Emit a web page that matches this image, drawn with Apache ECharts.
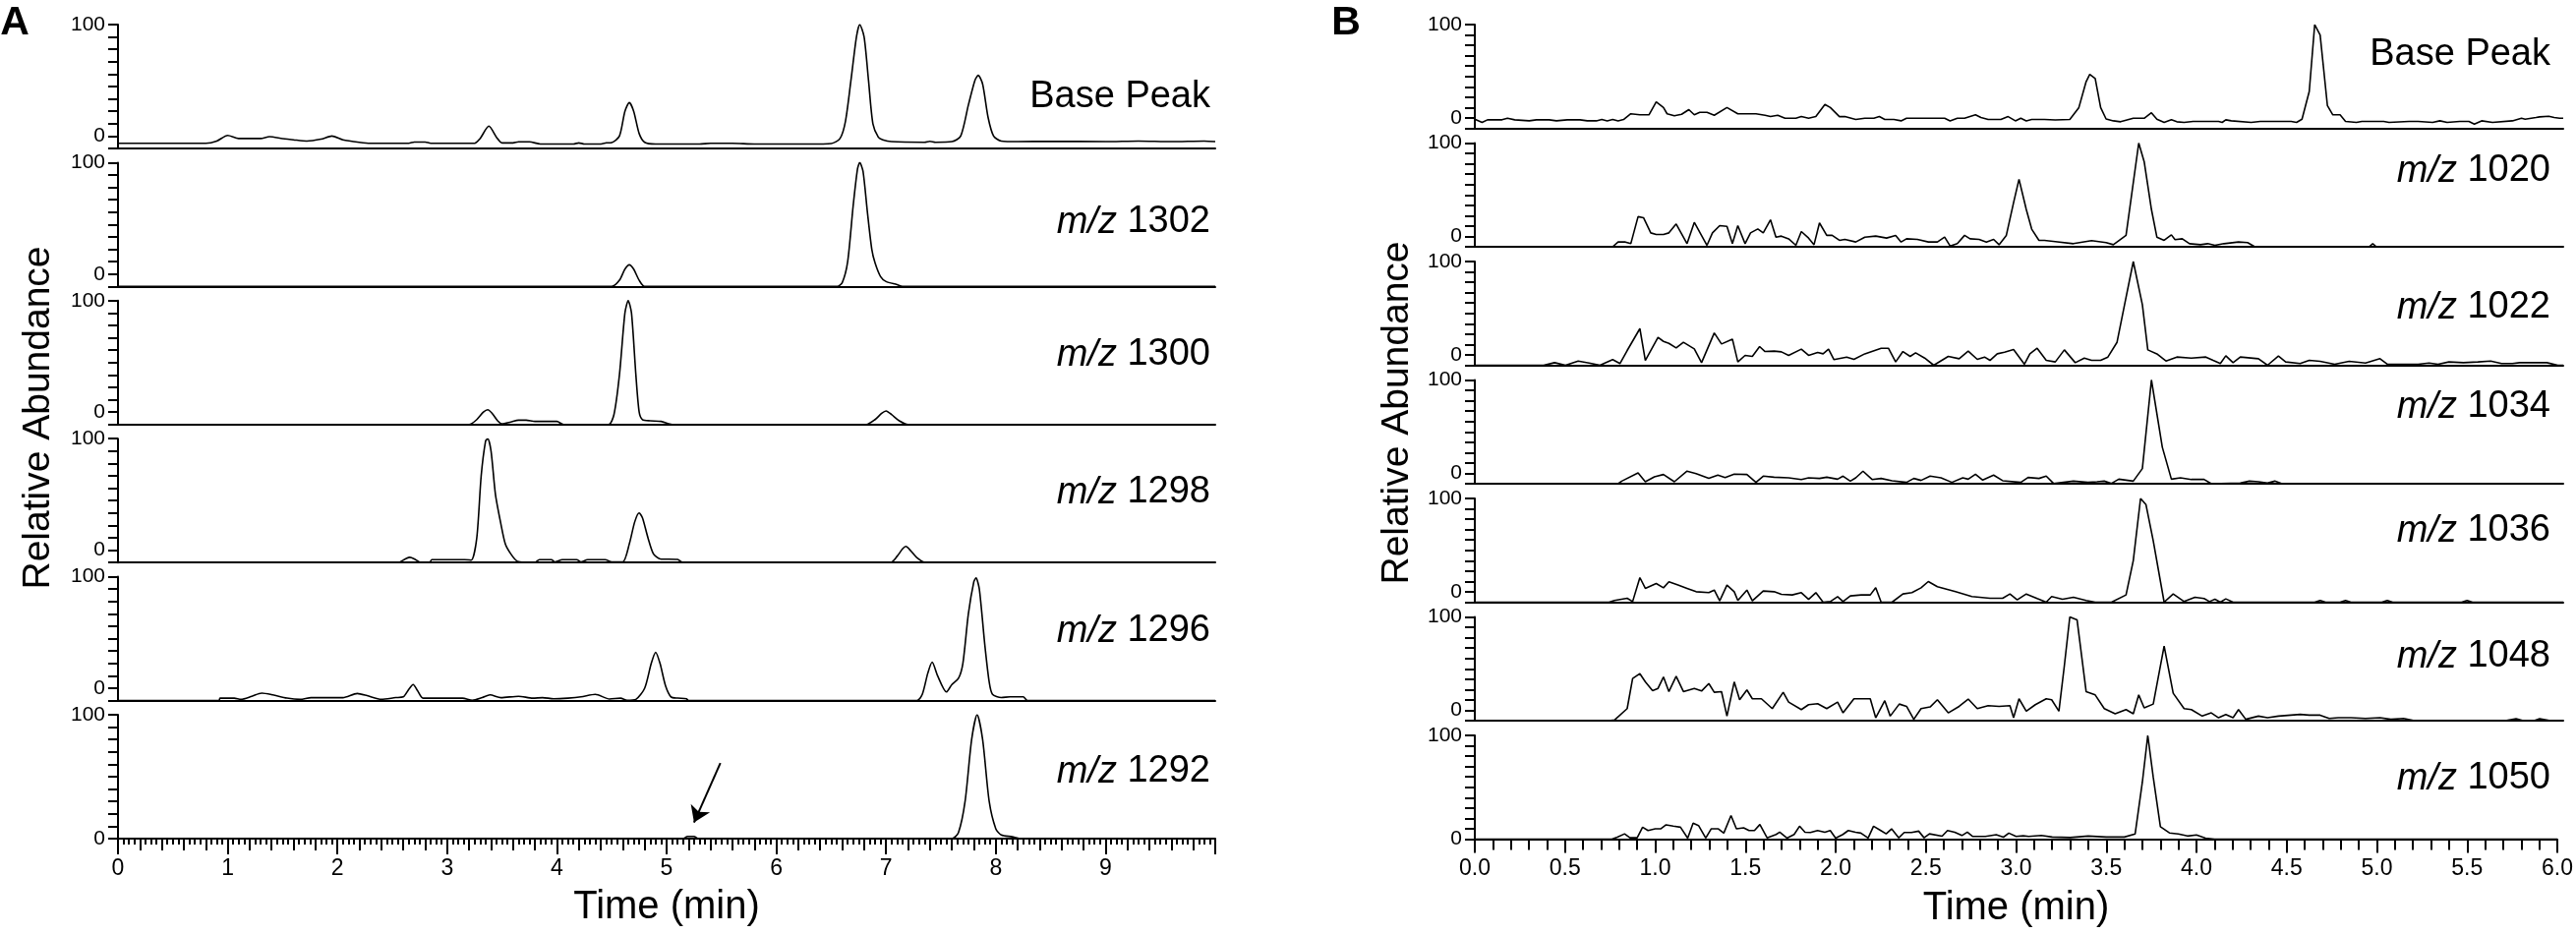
<!DOCTYPE html>
<html>
<head>
<meta charset="utf-8">
<title>Chromatograms</title>
<script src="https://cdn.jsdelivr.net/npm/echarts@6/dist/echarts.min.js"></script>
<style>
html, body { margin: 0; padding: 0; background: #fff; }
#chart { width: 2620px; height: 950px; }
</style>
</head>
<body>
<div id="chart"></div>
<script>
'use strict';

//------------data (time in min, relative abundance)

var aNames = ['Base Peak', '1302', '1300', '1298', '1296', '1292'];
var bNames = ['Base Peak', '1020', '1022', '1034', '1036', '1048', '1050'];
var aRange = [0, 10];
var bRange = [0, 6];
var yRange = [0, 100];
var arrowA = [[5.49, 61], [5.25, 13]];

var aBase = [[0,4.2],[0.8,4.2],[0.9,6],[1.0,10.5],[1.1,8],[1.3,8],[1.38,9.5],[1.5,8],[1.6,7],[1.72,6],[1.85,7.5],[1.95,10],[2.05,7],[2.2,5],[2.3,4.2],[2.65,4.2],[2.7,5.2],[2.8,5.2],[2.85,4.2],[3.25,4.2],[3.3,8],[3.38,18],[3.45,9],[3.5,4.5],[3.6,4.5],[3.65,5.3],[3.75,5.3],[3.85,3.6],[4.15,3.6],[4.2,4.5],[4.25,3.6],[4.4,3.6],[4.45,4.5],[4.5,4.8],[4.57,10],[4.62,30],[4.66,37],[4.7,30],[4.75,12],[4.8,5],[4.9,3.6],[5.3,3.6],[5.4,4.2],[5.6,4.2],[5.8,3.6],[6.3,3.6],[6.5,4],[6.58,8],[6.63,22],[6.68,55],[6.73,90],[6.76,100],[6.8,90],[6.84,55],[6.88,20],[6.93,9],[6.97,7],[7.05,5.5],[7.35,5],[7.4,5.8],[7.45,5],[7.6,5.5],[7.68,10],[7.75,35],[7.81,55],[7.84,59],[7.88,52],[7.93,25],[7.98,10],[8.05,6],[8.2,5.5],[8.5,5.8],[9.0,5.5],[9.3,6],[9.6,5.5],[9.9,6],[10,5.5]];
var a1302 = [[0,0],[4.5,0],[4.57,5],[4.62,14],[4.66,17.5],[4.7,14],[4.75,5],[4.8,0],[6.55,0],[6.6,3],[6.65,20],[6.7,65],[6.74,95],[6.76,100],[6.79,93],[6.83,60],[6.87,30],[6.9,19],[6.95,8],[7.0,4],[7.1,1.5],[7.15,0],[10,0]];
var a1300 = [[0,0],[3.2,0],[3.27,4],[3.33,10],[3.37,12],[3.41,9],[3.46,3],[3.5,0.5],[3.58,2],[3.65,3.5],[3.72,3.5],[3.8,2.5],[4.0,2.5],[4.06,0],[4.47,0],[4.52,8],[4.57,40],[4.62,90],[4.65,100],[4.68,90],[4.72,40],[4.75,10],[4.78,4],[4.85,3],[4.95,2.5],[5.05,0],[6.82,0],[6.9,4],[6.96,9],[7.0,11],[7.05,8],[7.12,3],[7.2,0],[10,0]];
var a1298 = [[0,0],[2.55,0],[2.62,3],[2.66,4.2],[2.7,3],[2.76,0],[2.84,0],[2.86,2.4],[3.16,2.4],[3.22,2],[3.27,20],[3.31,70],[3.35,98],[3.37,100],[3.4,90],[3.44,55],[3.49,31],[3.53,15],[3.58,7],[3.64,1],[3.8,0],[3.84,2.4],[3.95,2.4],[3.98,0.5],[4.05,2.4],[4.18,2.4],[4.22,0.5],[4.28,2.4],[4.44,2.4],[4.5,0.5],[4.6,0.5],[4.66,15],[4.71,33],[4.75,40],[4.78,36],[4.83,20],[4.88,7],[4.94,3],[5.1,2.5],[5.15,0],[7.04,0],[7.1,5],[7.15,11],[7.18,13],[7.22,10],[7.28,4],[7.36,0],[10,0]];
var a1296 = [[0,0],[0.92,0],[0.93,2],[1.06,2],[1.12,1],[1.22,3.5],[1.31,6],[1.41,4.6],[1.54,2],[1.66,1],[1.76,2.4],[2.05,2.4],[2.18,5.7],[2.27,4],[2.4,1],[2.53,2.4],[2.6,3],[2.65,9],[2.69,13],[2.73,8],[2.78,2],[3.14,2],[3.23,0.3],[3.32,2.5],[3.39,4.6],[3.49,2.4],[3.65,3.5],[3.78,2],[3.87,2.4],[3.97,1.5],[4.1,2],[4.22,3],[4.35,5],[4.48,1.3],[4.58,2],[4.64,0.3],[4.72,1],[4.8,10],[4.86,30],[4.9,39],[4.94,30],[4.99,12],[5.04,3],[5.1,2],[5.18,1.5],[5.2,0],[7.28,0],[7.33,5],[7.38,22],[7.42,31],[7.47,20],[7.55,7],[7.6,13],[7.66,18],[7.7,30],[7.75,70],[7.8,96],[7.82,99],[7.85,90],[7.9,45],[7.94,15],[7.97,5],[8.05,2.5],[8.13,3],[8.25,3],[8.29,0],[10,0]];
var a1292 = [[0,0],[5.15,0],[5.19,1.8],[5.25,1.8],[5.29,0],[7.6,0],[7.66,5],[7.72,30],[7.78,80],[7.83,100],[7.88,80],[7.94,30],[8.0,8],[8.05,3],[8.15,1.5],[8.22,0],[10,0]];

var bBase = [[0,8.8],[0.04,5.7],[0.07,8.2],[0.15,8.2],[0.18,9.7],[0.22,8.2],[0.3,7.2],[0.34,8.2],[0.41,8.2],[0.45,7.2],[0.51,8.2],[0.58,8.2],[0.62,7.2],[0.67,7.2],[0.7,8.5],[0.73,7.2],[0.76,8.5],[0.79,7.2],[0.82,8.5],[0.86,14],[0.91,13],[0.96,13],[1.0,25.5],[1.04,20],[1.06,14],[1.1,12],[1.14,13.5],[1.18,18],[1.21,13],[1.24,15.4],[1.28,15.4],[1.32,12.6],[1.39,20],[1.45,14],[1.55,14],[1.6,12.6],[1.63,11.3],[1.67,12.6],[1.71,9.7],[1.77,9.7],[1.8,11.3],[1.84,9.7],[1.88,11.3],[1.93,23],[1.96,20],[2.01,11.3],[2.04,11.3],[2.1,8.5],[2.15,9.7],[2.2,9.7],[2.23,11.3],[2.26,8.5],[2.31,8.5],[2.35,7.2],[2.38,9.7],[2.59,9.7],[2.62,7.2],[2.66,9.7],[2.7,9.7],[2.76,13],[2.79,10.4],[2.83,8.5],[2.9,8.5],[2.94,11.3],[2.98,7.2],[3.01,9.7],[3.04,7.2],[3.07,8.5],[3.14,8.5],[3.2,8],[3.28,8.5],[3.33,20],[3.37,45],[3.39,52],[3.42,48],[3.45,20],[3.48,9],[3.52,7.2],[3.56,6.3],[3.63,9.7],[3.69,9.7],[3.73,15],[3.76,8.8],[3.8,5.7],[3.84,8.2],[3.87,6.3],[3.91,5.7],[3.96,6.6],[4.1,6.6],[4.12,5.7],[4.14,8.2],[4.17,7.2],[4.28,5.7],[4.33,6.6],[4.5,6.6],[4.53,5.7],[4.56,8.8],[4.6,35.5],[4.63,100],[4.66,90],[4.7,22],[4.73,13],[4.77,13],[4.8,6.6],[4.86,5.7],[4.89,6.6],[5.01,6.6],[5.04,5.7],[5.15,6.6],[5.2,6.6],[5.28,5.7],[5.32,7.2],[5.36,5.7],[5.43,6.6],[5.48,6.6],[5.51,4],[5.55,7.2],[5.61,5.7],[5.72,7.2],[5.77,9.7],[5.79,8.8],[5.85,10.4],[5.87,11],[5.92,11.6],[5.95,10.4],[5.98,9.7],[6.0,9.7]];
var b1020 = [[0,0],[0.76,0],[0.79,4.6],[0.83,4.6],[0.86,3],[0.9,29],[0.93,28],[0.97,13.4],[1.0,11.8],[1.04,11.8],[1.07,13.4],[1.11,22],[1.17,3],[1.21,23.5],[1.28,1.4],[1.31,13.4],[1.35,20.4],[1.39,19.7],[1.42,3],[1.45,20.4],[1.49,3],[1.52,13.4],[1.56,17.2],[1.59,13.4],[1.63,26],[1.66,9.3],[1.69,10.3],[1.73,7.7],[1.77,1.4],[1.8,14.7],[1.84,8.4],[1.87,2],[1.9,23],[1.94,11],[1.97,11],[2.01,6.2],[2.04,7.1],[2.1,4.6],[2.15,9.3],[2.21,10.3],[2.27,8.4],[2.32,11],[2.35,4.6],[2.38,7.7],[2.44,7.1],[2.5,4.6],[2.55,4.6],[2.59,9.3],[2.62,0.8],[2.66,3],[2.7,11],[2.73,7.7],[2.78,7.1],[2.82,4.6],[2.86,7.1],[2.89,2],[2.93,11],[2.97,42.5],[3.0,65],[3.04,36],[3.07,17],[3.11,6.2],[3.14,6.2],[3.2,5],[3.3,3],[3.4,6],[3.48,4],[3.52,2],[3.59,11],[3.66,100],[3.69,82],[3.73,36],[3.76,9.3],[3.8,6.2],[3.84,11.5],[3.86,6.8],[3.9,7.7],[3.94,3],[4.0,2],[4.04,3],[4.08,1.4],[4.13,3],[4.21,4.6],[4.26,4],[4.3,0],[4.93,0],[4.95,3],[4.97,0],[6.0,0]];
var b1022 = [[0,0],[0.38,0],[0.44,2.5],[0.5,0],[0.57,4.1],[0.63,2.2],[0.69,0],[0.76,5.4],[0.8,1.6],[0.84,14.2],[0.91,35.3],[0.94,4.7],[1.01,26.8],[1.04,23],[1.07,21.1],[1.11,16.7],[1.15,22.1],[1.21,15.8],[1.25,2.5],[1.32,31.2],[1.36,20.5],[1.42,25.2],[1.45,3.2],[1.49,9.5],[1.53,8.5],[1.57,18],[1.6,13.2],[1.65,13.6],[1.69,12.9],[1.73,9.5],[1.8,15.5],[1.84,9.5],[1.89,12.3],[1.92,11],[1.95,15.5],[1.98,5.4],[2.05,7.9],[2.09,5.7],[2.15,11],[2.24,16.4],[2.28,16.4],[2.32,3.2],[2.36,13.2],[2.4,8.5],[2.43,12],[2.48,6.9],[2.53,0],[2.61,8.5],[2.67,6.3],[2.72,13.6],[2.77,5.7],[2.81,7.9],[2.84,4.7],[2.88,11],[2.92,12.6],[2.97,15.1],[3.03,1],[3.06,11],[3.1,16.4],[3.15,4.7],[3.2,3.2],[3.25,14.8],[3.31,2.5],[3.36,6.9],[3.4,4.7],[3.45,4.7],[3.49,7.9],[3.54,22],[3.58,56.8],[3.63,100],[3.68,58.4],[3.71,14.8],[3.76,11],[3.81,4.1],[3.87,7.9],[3.95,6.9],[4.03,7.9],[4.07,4.7],[4.11,1.6],[4.14,9.1],[4.18,2.5],[4.22,7.9],[4.32,6.3],[4.37,0],[4.43,8.8],[4.47,3.2],[4.55,1.6],[4.6,4.7],[4.66,3.8],[4.74,1],[4.82,3.8],[4.91,2.2],[4.99,6.3],[5.03,1],[5.2,1],[5.26,2.2],[5.31,1],[5.37,3.2],[5.45,2.5],[5.53,3.2],[5.6,4.1],[5.66,1.6],[5.72,1.6],[5.76,2.5],[5.91,2.5],[5.97,0],[6.0,0]];
var b1034 = [[0,0],[0.79,0],[0.81,2.5],[0.9,10.5],[0.94,1.9],[0.99,6.7],[1.04,8.9],[1.1,1.9],[1.17,12.1],[1.22,9.8],[1.29,5.1],[1.34,8.3],[1.38,6],[1.43,9.2],[1.5,8.9],[1.55,1.3],[1.59,7.3],[1.65,6.3],[1.73,5.7],[1.8,4.1],[1.84,5.7],[1.9,5.1],[1.94,6.3],[2.0,4.4],[2.03,7.3],[2.07,2.5],[2.1,5.7],[2.14,12.1],[2.19,4.1],[2.24,5.1],[2.3,2.9],[2.38,1.3],[2.42,5.1],[2.46,3.2],[2.51,7.3],[2.57,5.7],[2.63,1.3],[2.69,5.7],[2.72,4.4],[2.76,9.2],[2.8,3.5],[2.86,8.3],[2.91,2.9],[3.01,1.3],[3.05,6],[3.11,5.1],[3.15,7.3],[3.19,0.3],[3.3,2.5],[3.38,1.3],[3.43,1.9],[3.47,2.5],[3.51,0.3],[3.55,4.4],[3.63,2.5],[3.68,14.6],[3.73,100],[3.79,35.2],[3.84,4.4],[3.89,5.7],[3.95,4.1],[4.02,4.1],[4.06,0],[4.22,0.6],[4.27,2.5],[4.32,1.9],[4.37,0.6],[4.41,2.5],[4.45,0],[6.0,0]];
var b1036 = [[0,0],[0.74,0],[0.77,1.6],[0.84,3.8],[0.87,0.6],[0.91,23.7],[0.94,13.3],[1.0,18],[1.04,13.9],[1.07,19.6],[1.12,16.5],[1.17,13.3],[1.22,10.1],[1.29,9.2],[1.32,11.7],[1.35,1.3],[1.39,16.5],[1.43,10.1],[1.45,1.6],[1.5,11.7],[1.53,1.3],[1.59,10.8],[1.65,10.1],[1.69,7.6],[1.75,7],[1.8,9.2],[1.84,2.8],[1.88,9.2],[1.92,0],[1.96,0.6],[2.0,5.4],[2.03,0.6],[2.07,6],[2.13,7],[2.18,7],[2.21,13.9],[2.24,0],[2.3,0],[2.36,7.9],[2.41,9.2],[2.46,13.9],[2.5,19.9],[2.55,14.9],[2.65,10.1],[2.74,5.4],[2.84,3.8],[2.91,3.8],[2.95,7.9],[2.99,2.2],[3.04,7.9],[3.1,3.5],[3.15,0],[3.18,5.4],[3.24,2.8],[3.3,4.7],[3.37,1.6],[3.42,0],[3.51,0],[3.59,7],[3.63,40.2],[3.67,100],[3.7,94],[3.74,59.2],[3.8,0],[3.85,7.9],[3.91,0.6],[3.97,4.7],[4.02,3.5],[4.05,0.6],[4.08,2.8],[4.11,0],[4.14,3.2],[4.18,0],[4.63,0],[4.66,1.6],[4.69,0],[4.77,0],[4.8,1.6],[4.83,0],[5.0,0],[5.03,1.6],[5.06,0],[5.44,0],[5.47,1.6],[5.5,0],[6.0,0]];
var b1048 = [[0,0],[0.74,0],[0.77,0.6],[0.84,11.6],[0.87,40.6],[0.91,45.3],[0.94,37.4],[0.98,28.9],[1.01,31.1],[1.04,42.1],[1.07,28],[1.11,42.8],[1.15,28],[1.21,31.1],[1.25,28.6],[1.29,35.8],[1.32,27.4],[1.36,28],[1.39,4.4],[1.43,37.4],[1.46,20.1],[1.5,29.6],[1.53,21.1],[1.58,21.1],[1.64,11.6],[1.7,27.4],[1.73,17.9],[1.8,10.7],[1.84,15.4],[1.89,16.4],[1.94,11.6],[2.0,17.9],[2.03,7.5],[2.09,21.1],[2.15,21.1],[2.18,21.1],[2.21,2.8],[2.26,19.2],[2.29,4.4],[2.34,16],[2.38,13.8],[2.42,1.3],[2.46,11.6],[2.51,13.2],[2.55,20.1],[2.61,7.5],[2.67,13.8],[2.72,20.8],[2.77,11.6],[2.83,14.5],[2.89,13.8],[2.95,14.5],[2.97,2.8],[3.0,21.1],[3.04,9.1],[3.09,15.4],[3.15,21.1],[3.18,20.1],[3.22,9.1],[3.25,53.1],[3.28,100],[3.32,97.2],[3.37,28],[3.42,24.8],[3.47,11.6],[3.53,6.6],[3.59,10.7],[3.63,6.6],[3.66,24.8],[3.69,12.3],[3.74,16],[3.8,72],[3.85,26.4],[3.91,11.6],[3.95,10.7],[4.01,4.4],[4.06,7.5],[4.1,2.8],[4.14,6],[4.18,2.8],[4.21,10.7],[4.25,1.3],[4.32,4.4],[4.37,2.8],[4.43,4.4],[4.55,6],[4.6,5.3],[4.66,5.3],[4.71,2.2],[4.76,2.8],[4.83,2.8],[4.91,2.2],[4.99,2.8],[5.05,1.3],[5.12,2.2],[5.18,0],[5.68,0],[5.74,1.9],[5.78,0],[5.84,0],[5.87,1.9],[5.93,0],[6.0,0]];
var b1050 = [[0,0],[0.76,0],[0.79,1.9],[0.83,5.1],[0.86,1.3],[0.9,1.3],[0.93,11.5],[0.96,8.3],[1.0,9.9],[1.03,9.9],[1.06,13.8],[1.1,12.5],[1.14,11.5],[1.18,1],[1.21,15.4],[1.24,13.1],[1.28,1],[1.31,9.9],[1.35,9.9],[1.38,5.8],[1.42,22.8],[1.45,9.9],[1.49,10.9],[1.52,8.3],[1.55,8.3],[1.58,14.1],[1.62,1.3],[1.67,4.5],[1.69,6.7],[1.73,1],[1.77,4.5],[1.8,12.5],[1.83,6.7],[1.86,6.4],[1.9,8.3],[1.94,6.7],[1.97,8.3],[2.0,1],[2.04,4.5],[2.07,8.3],[2.11,6.7],[2.14,5.8],[2.18,1],[2.21,12.5],[2.25,8.3],[2.28,5.1],[2.31,9.9],[2.35,1.3],[2.38,6.4],[2.42,6.4],[2.46,7.7],[2.49,1.3],[2.52,5.1],[2.59,2.9],[2.62,8.3],[2.66,6.7],[2.7,3.5],[2.73,6.7],[2.76,2.6],[2.83,2.6],[2.89,4.2],[2.93,1.9],[2.96,5.8],[3.0,2.6],[3.04,3.2],[3.07,2.6],[3.14,3.5],[3.2,2],[3.3,1.5],[3.4,3],[3.5,2],[3.6,2],[3.66,5],[3.7,55],[3.73,100],[3.76,60],[3.8,12],[3.85,6],[3.9,5],[3.95,3],[4.0,4],[4.05,1],[4.1,0],[6.0,0]];

var aSeries = [aBase, a1302, a1300, a1298, a1296, a1292];
var bSeries = [bBase, b1020, b1022, b1034, b1036, b1048, b1050];

//------------layout

var FONT = "'Liberation Sans', Arial, Helvetica, sans-serif";

var panels = [
	{ side: 'A', names: aNames, traces: aSeries, range: aRange, left: 120, width: 1116, top: 25, pitch: 140.4, height: 126,
	  labelX: 1231, labelY: [99, 226, 361, 501, 642, 785], zeroLift: 25, smooth: 0.25,
	  letterX: 15, titleX: 39, titleY: 425, axisStep: 1, labelFmt: function (v) { return v >= 10 ? '' : String(v); } },
	{ side: 'B', names: bNames, traces: bSeries, range: bRange, left: 1500, width: 1107, top: 25, pitch: 120.5, height: 105.5,
	  labelX: 2594, labelY: [56, 174, 313, 414, 540, 668, 792], zeroLift: 21, smooth: false,
	  letterX: 1369, titleX: 1421, titleY: 420, axisStep: 0.5, labelFmt: function (v) { return v.toFixed(1); } }
];

var chart = echarts.init(document.getElementById('chart'));
var grids = [], xAxes = [], yAxes = [], series = [], graphics = [];

panels.forEach(function (p) {
	var n = p.traces.length;
	for (var i = 0; i < n; i++) {
		var last = (i === n - 1);
		var gi = grids.length;
		grids.push({ left: p.left, width: p.width, top: p.top + i * p.pitch, height: p.height });

		var xi = xAxes.length;
		var xAxis = {
			gridIndex: gi, type: 'value', position: 'bottom', min: p.range[0], max: p.range[1],
			axisLine: { show: true, onZero: false, lineStyle: { color: '#000', width: 2 } },
			axisTick: { show: false },
			axisLabel: { show: false },
			splitLine: { show: false }
		};
		if (last) {
			xAxis.interval = p.axisStep;
			xAxis.axisTick = { show: true, length: p.side === 'A' ? 16 : 14, lineStyle: { color: '#000', width: 2 } };
			xAxis.minorTick = { show: true, splitNumber: p.side === 'A' ? 20 : 5, length: p.side === 'A' ? 6 : 11, lineStyle: { color: '#000', width: 2 } };
			xAxis.axisLabel = { show: true, margin: 19, color: '#000', fontSize: 23, fontFamily: FONT, formatter: p.labelFmt };
			xAxis.name = 'Time (min)';
			xAxis.nameLocation = 'middle';
			xAxis.nameGap = 50;
			xAxis.nameTextStyle = { color: '#000', fontSize: 40, fontFamily: FONT };
		}
		xAxes.push(xAxis);

		// medium ticks every 0.2 min on the bottom axis of panel A
		if (last && p.side === 'A') {
			xAxes.push({
				gridIndex: gi, type: 'value', position: 'bottom', offset: 0,
				min: p.range[0], max: p.range[1], interval: 0.2,
				axisLine: { show: false, onZero: false },
				axisTick: { show: true, length: 12, lineStyle: { color: '#000', width: 2 } },
				axisLabel: { show: false },
				splitLine: { show: false }
			});
		}

		yAxes.push({
			gridIndex: gi, type: 'value', min: yRange[0], max: yRange[1], interval: 10,
			axisLine: { show: true, onZero: false, lineStyle: { color: '#000', width: 2 } },
			axisTick: { show: true, length: 10, lineStyle: { color: '#000', width: 2 } },
			splitLine: { show: false },
			axisLabel: {
				margin: 13, color: '#000', fontSize: 21, fontFamily: FONT,
				showMinLabel: true, showMaxLabel: true,
				formatter: (function (isLast) {
					return function (v) {
						if (v === 100) return '100';
						if (v === 0) return isLast ? '0' : '{up|0}';
						return '';
					};
				})(last),
				rich: { up: { fontSize: 21, fontFamily: FONT, color: '#000', padding: [0, 0, p.zeroLift, 0] } }
			}
		});

		var s = {
			type: 'line', xAxisIndex: xi, yAxisIndex: gi, data: p.traces[i],
			showSymbol: false, symbol: 'none', smooth: p.smooth, silent: true,
			lineStyle: { color: '#000', width: 1.6 }
		};
		if (last && p.side === 'A') {
			s.markLine = {
				silent: true, symbol: ['none', 'arrow'], symbolSize: 16,
				lineStyle: { color: '#000', width: 2, type: 'solid' },
				label: { show: false },
				data: [[{ coord: arrowA[0] }, { coord: arrowA[1] }]]
			};
		}
		series.push(s);

		// trace labels
		var name = p.names[i];
		graphics.push({
			type: 'text', x: p.labelX, y: p.labelY[i],
			style: {
				text: name === 'Base Peak' ? name : '{i|m/z} ' + name,
				align: 'right', verticalAlign: 'middle',
				fontSize: 38, fontFamily: FONT, fill: '#000',
				rich: { i: { fontSize: 38, fontFamily: FONT, fontStyle: 'italic', fill: '#000' } }
			}
		});
	}

	// panel letter and y title
	graphics.push({
		type: 'text', x: p.letterX, y: 24,
		style: { text: p.side, align: 'center', verticalAlign: 'middle', fontSize: 41, fontWeight: 'bold', fontFamily: FONT, fill: '#000' }
	});
	graphics.push({
		type: 'text', x: p.titleX, y: p.titleY, rotation: Math.PI / 2,
		style: { text: 'Relative Abundance', align: 'center', verticalAlign: 'middle', fontSize: 39, fontFamily: FONT, fill: '#000' }
	});
});

var option = {
	animation: false,
	backgroundColor: '#fff',
	textStyle: { fontFamily: FONT },
	grid: grids,
	xAxis: xAxes,
	yAxis: yAxes,
	series: series,
	graphic: graphics
};

chart.setOption(option);
</script>
</body>
</html>
